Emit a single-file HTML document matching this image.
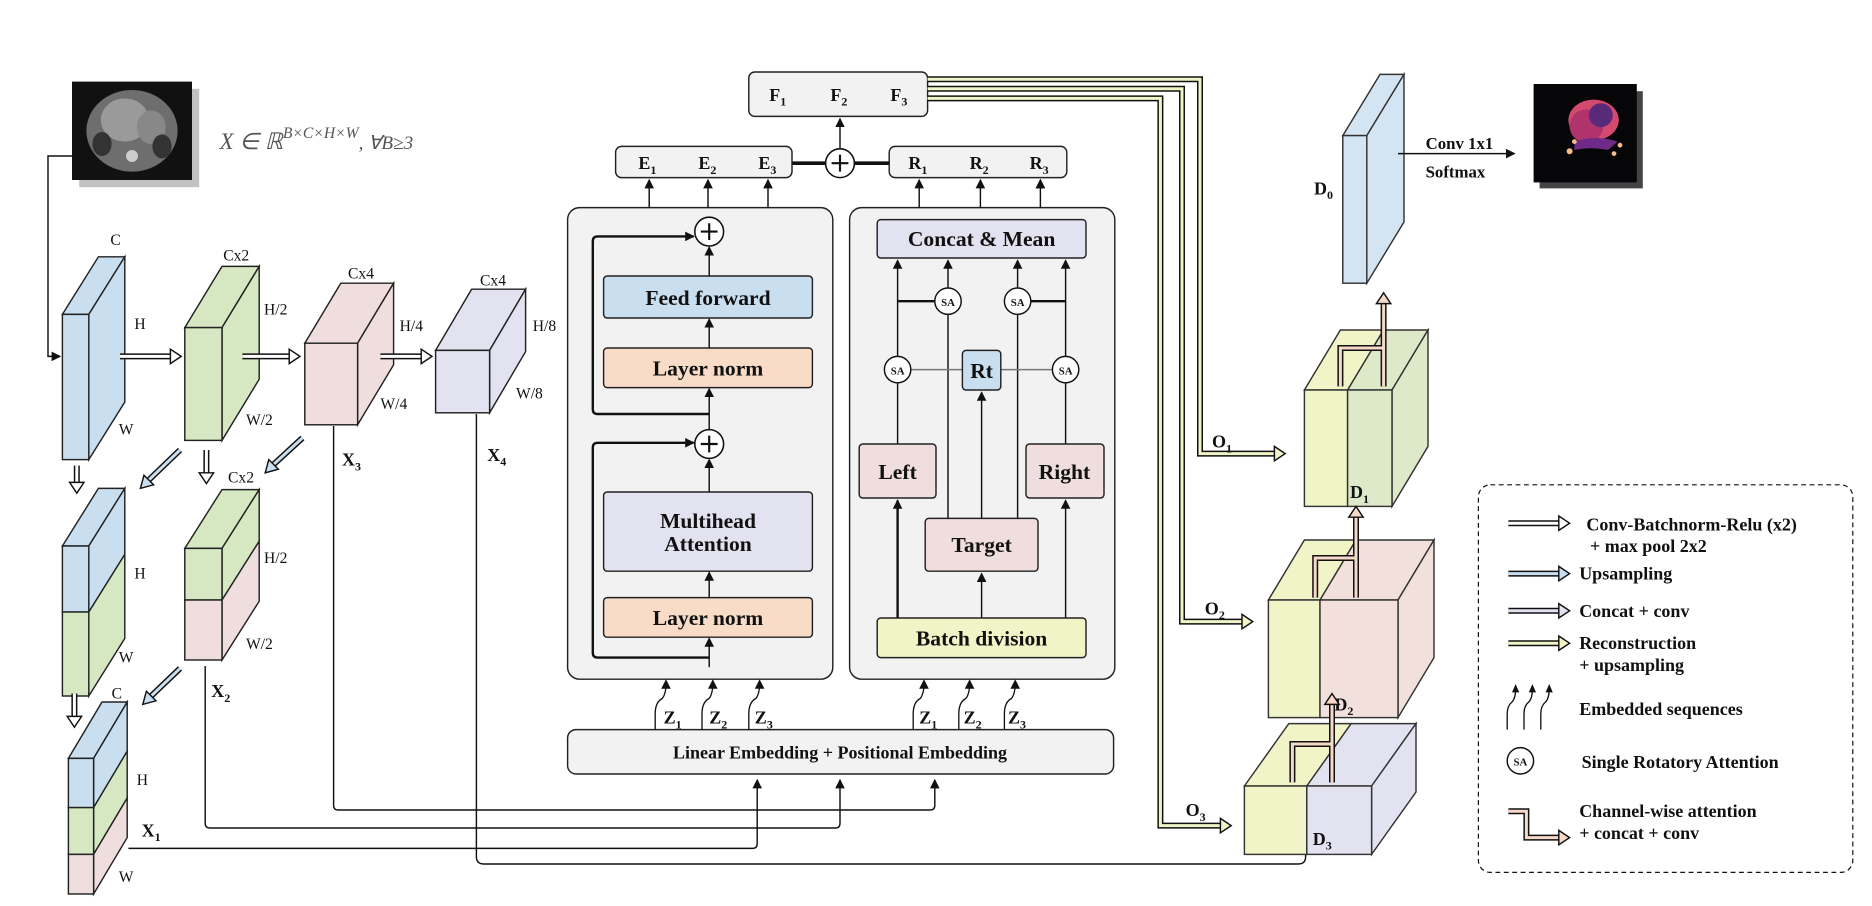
<!DOCTYPE html>
<html><head><meta charset="utf-8"><style>
html,body{margin:0;padding:0;background:#fff;}
svg{display:block;}
text{font-family:"Liberation Serif",serif;fill:#111;}
.b{font-weight:bold;}
</style></head><body>
<svg width="1872" height="906" viewBox="0 0 1560 755" xmlns="http://www.w3.org/2000/svg">
<defs>
<marker id="ah" markerWidth="8" markerHeight="8" refX="7" refY="4" orient="auto" markerUnits="userSpaceOnUse"><path d="M0,0 L8,4 L0,8z" fill="#111"/></marker>
</defs>
<rect width="1560" height="755" fill="#fff"/>

<!-- CT image -->
<rect x="66" y="74" width="100" height="82" fill="#999" opacity="0.6"/>
<rect x="60" y="68" width="100" height="82" fill="#111"/>
<ellipse cx="110" cy="109" rx="38" ry="34" fill="#6e6e6e"/>
<ellipse cx="104" cy="100" rx="20" ry="18" fill="#9a9a9a"/>
<ellipse cx="126" cy="106" rx="12" ry="14" fill="#888"/>
<ellipse cx="85" cy="120" rx="8" ry="10" fill="#333"/>
<ellipse cx="135" cy="122" rx="8" ry="10" fill="#333"/>
<circle cx="110" cy="130" r="5" fill="#ccc"/>
<text x="183" y="124" font-size="19" font-style="italic" fill="#444" style="fill:#555">X ∈ ℝ<tspan font-size="13" dy="-9">B×C×H×W</tspan><tspan dy="9" font-size="16">, ∀B≥3</tspan></text>
<path d="M60,130 H40 V297 H50" fill="none" stroke="#111" stroke-width="1.2" marker-end="url(#ah)"/>

<!-- Encoder boxes -->
<g stroke="#222" stroke-width="1.2">
<!-- B1 -->
<polygon points="52,262 82,214 104,214 74,262" fill="#c9dff0"/>
<polygon points="74,262 104,214 104,335 74,383" fill="#c9dff0"/>
<rect x="52" y="262" width="22" height="121" fill="#c9dff0"/>
<!-- B2 -->
<polygon points="154,273 185,222 216,222 185,273" fill="#d6e8c1"/>
<polygon points="185,273 216,222 216,316 185,367" fill="#d6e8c1"/>
<rect x="154" y="273" width="31" height="94" fill="#d6e8c1"/>
<!-- B3 -->
<polygon points="254,286 284,236 328,236 298,286" fill="#f0dede"/>
<polygon points="298,286 328,236 328,304 298,354" fill="#f0dede"/>
<rect x="254" y="286" width="44" height="68" fill="#f0dede"/>
<!-- B4 -->
<polygon points="363,292 393,241 438,241 408,292" fill="#e3e2f1"/>
<polygon points="408,292 438,241 438,293 408,344" fill="#e3e2f1"/>
<rect x="363" y="292" width="45" height="52" fill="#e3e2f1"/>
<!-- B5 -->
<polygon points="52,455 82,407 104,407 74,455" fill="#c9dff0"/>
<polygon points="74,455 104,407 104,462 74,510" fill="#c9dff0"/>
<polygon points="74,510 104,462 104,532 74,580" fill="#d6e8c1"/>
<rect x="52" y="455" width="22" height="55" fill="#c9dff0"/>
<rect x="52" y="510" width="22" height="70" fill="#d6e8c1"/>
<!-- B6 -->
<polygon points="154,457 185,408 216,408 185,457" fill="#d6e8c1"/>
<polygon points="185,457 216,408 216,451 185,500" fill="#d6e8c1"/>
<polygon points="185,500 216,451 216,501 185,550" fill="#f0dede"/>
<rect x="154" y="457" width="31" height="43" fill="#d6e8c1"/>
<rect x="154" y="500" width="31" height="50" fill="#f0dede"/>
<!-- B7 -->
<polygon points="57,632 85,585 106,585 78,632" fill="#c9dff0"/>
<polygon points="78,632 106,585 106,626 78,673" fill="#c9dff0"/>
<polygon points="78,673 106,626 106,665 78,712" fill="#d6e8c1"/>
<polygon points="78,712 106,665 106,698 78,745" fill="#f0dede"/>
<rect x="57" y="632" width="21" height="41" fill="#c9dff0"/>
<rect x="57" y="673" width="21" height="39" fill="#d6e8c1"/>
<rect x="57" y="712" width="21" height="33" fill="#f0dede"/>
</g>
<g font-size="13">
<text x="92" y="204">C</text><text x="112" y="274">H</text><text x="99" y="362">W</text>
<text x="186" y="217">Cx2</text><text x="220" y="262">H/2</text><text x="205" y="354">W/2</text>
<text x="290" y="232">Cx4</text><text x="333" y="276">H/4</text><text x="317" y="341">W/4</text>
<text x="400" y="238">Cx4</text><text x="444" y="276">H/8</text><text x="430" y="332">W/8</text>
<text x="112" y="482">H</text><text x="99" y="552">W</text>
<text x="190" y="402">Cx2</text><text x="220" y="469">H/2</text><text x="205" y="541">W/2</text>
<text x="93" y="582">C</text><text x="114" y="654">H</text><text x="99" y="735">W</text>
</g>
<g font-size="15" class="b" font-weight="bold">
<text x="285" y="388">X<tspan font-size="10" dy="4">3</tspan></text>
<text x="406" y="384">X<tspan font-size="10" dy="4">4</tspan></text>
<text x="176" y="581">X<tspan font-size="10" dy="4">2</tspan></text>
<text x="118" y="697">X<tspan font-size="10" dy="4">1</tspan></text>
</g>

<!-- hollow arrows encoder -->
<g>
<path d="M100,297 H143" stroke="#111" stroke-width="5" fill="none"/><path d="M100,297 H143" stroke="#fff" stroke-width="2.5" fill="none"/><polygon points="142,291 151,297 142,303" fill="#fff" stroke="#111" stroke-width="1.2"/>
<path d="M202,297 H242" stroke="#111" stroke-width="5" fill="none"/><path d="M202,297 H242" stroke="#fff" stroke-width="2.5" fill="none"/><polygon points="241,291 250,297 241,303" fill="#fff" stroke="#111" stroke-width="1.2"/>
<path d="M317,297 H352" stroke="#111" stroke-width="5" fill="none"/><path d="M317,297 H352" stroke="#fff" stroke-width="2.5" fill="none"/><polygon points="351,291 360,297 351,303" fill="#fff" stroke="#111" stroke-width="1.2"/>
<path d="M64,388 V403" stroke="#111" stroke-width="5"/><path d="M64,388 V403" stroke="#fff" stroke-width="2.5"/><polygon points="58,402 64,411 70,402" fill="#fff" stroke="#111" stroke-width="1.2"/>
<path d="M172,375 V395" stroke="#111" stroke-width="5"/><path d="M172,375 V395" stroke="#fff" stroke-width="2.5"/><polygon points="166,394 172,403 178,394" fill="#fff" stroke="#111" stroke-width="1.2"/>
<path d="M62,578 V598" stroke="#111" stroke-width="5"/><path d="M62,578 V598" stroke="#fff" stroke-width="2.5"/><polygon points="56,597 62,606 68,597" fill="#fff" stroke="#111" stroke-width="1.2"/>
<path d="M150,375 L124,400" stroke="#111" stroke-width="5"/><path d="M150,375 L124,400" stroke="#c9dff0" stroke-width="2.5"/><polygon points="120,396 117,407 128,404" fill="#c9dff0" stroke="#111" stroke-width="1.2"/>
<path d="M252,365 L228,387" stroke="#111" stroke-width="5"/><path d="M252,365 L228,387" stroke="#c9dff0" stroke-width="2.5"/><polygon points="224,383 221,394 232,391" fill="#c9dff0" stroke="#111" stroke-width="1.2"/>
<path d="M150,557 L126,580" stroke="#111" stroke-width="5"/><path d="M150,557 L126,580" stroke="#c9dff0" stroke-width="2.5"/><polygon points="122,576 119,587 130,584" fill="#c9dff0" stroke="#111" stroke-width="1.2"/>
</g>

<!-- skip connections to embedding -->
<g fill="none" stroke="#111" stroke-width="1.2">
<path d="M107,707 H627 Q631,707 631,703 V650" marker-end="url(#ah)"/>
<path d="M171,555 V686 Q171,690 175,690 H696 Q700,690 700,686 V650" marker-end="url(#ah)"/>
<path d="M278,355 V671 Q278,675 282,675 H775 Q779,675 779,671 V650" marker-end="url(#ah)"/>
<path d="M397,345 V714 Q397,720 403,720 H1082 Q1088,720 1088,714 V700"/>
</g>

<!-- F/E/R boxes -->
<g stroke="#222" stroke-width="1.2" fill="#f2f2f2">
<rect x="624" y="60" width="149" height="37" rx="5"/>
<rect x="513" y="122" width="147" height="26" rx="5"/>
<rect x="741" y="122" width="148" height="26" rx="5"/>
<rect x="473" y="173" width="221" height="393" rx="10"/>
<rect x="708" y="173" width="221" height="393" rx="10"/>
<rect x="473" y="608" width="455" height="37" rx="7"/>
</g>
<g font-size="15" font-weight="bold">
<text x="641" y="84">F<tspan font-size="10" dy="4">1</tspan></text>
<text x="692" y="84">F<tspan font-size="10" dy="4">2</tspan></text>
<text x="742" y="84">F<tspan font-size="10" dy="4">3</tspan></text>
<text x="532" y="141">E<tspan font-size="10" dy="4">1</tspan></text>
<text x="582" y="141">E<tspan font-size="10" dy="4">2</tspan></text>
<text x="632" y="141">E<tspan font-size="10" dy="4">3</tspan></text>
<text x="757" y="141">R<tspan font-size="10" dy="4">1</tspan></text>
<text x="808" y="141">R<tspan font-size="10" dy="4">2</tspan></text>
<text x="858" y="141">R<tspan font-size="10" dy="4">3</tspan></text>
</g>
<path d="M660,136 H741" stroke="#111" stroke-width="3"/>
<circle cx="700" cy="136" r="12" fill="#fff" stroke="#111" stroke-width="1.3"/>
<path d="M693,136 H707 M700,129 V143" stroke="#111" stroke-width="1.8"/>
<g stroke="#111" stroke-width="1.2" fill="none">
<path d="M700,124 V99" marker-end="url(#ah)"/>
<path d="M541,173 V150 M590,173 V150 M640,173 V150 M766,173 V150 M817,173 V150 M867,173 V150" marker-end="url(#ah)"/>
</g>
<g fill="#111"><polygon points="537,157 541,149 545,157"/><polygon points="586,157 590,149 594,157"/><polygon points="636,157 640,149 644,157"/><polygon points="762,157 766,149 770,157"/><polygon points="813,157 817,149 821,157"/><polygon points="863,157 867,149 871,157"/></g>

<!-- Left panel -->
<g stroke="#222" stroke-width="1.2">
<rect x="503" y="230" width="174" height="35" rx="3" fill="#c9dff0"/>
<rect x="503" y="290" width="174" height="33" rx="3" fill="#f8dcc7"/>
<rect x="503" y="410" width="174" height="66" rx="3" fill="#e3e2f1"/>
<rect x="503" y="498" width="174" height="33" rx="3" fill="#f8dcc7"/>
</g>
<g stroke="#111" stroke-width="1.2" fill="none">
<path d="M591,230 V206" marker-end="url(#ah)"/>
<path d="M591,290 V266" marker-end="url(#ah)"/>
<path d="M591,358 V324" marker-end="url(#ah)"/>
<path d="M591,410 V383" marker-end="url(#ah)"/>
<path d="M591,498 V477" marker-end="url(#ah)"/>
<path d="M591,556 V532" marker-end="url(#ah)"/>
<path d="M591,345 H498 Q494,345 494,341 V201 Q494,197 498,197 H578" stroke-width="2" marker-end="url(#ah)"/>
<path d="M591,548 H498 Q494,548 494,544 V373 Q494,369 498,369 H578" stroke-width="2" marker-end="url(#ah)"/>
</g>
<g fill="#fff" stroke="#111" stroke-width="1.3"><circle cx="591" cy="193" r="12"/><circle cx="591" cy="370" r="12"/></g>
<path d="M584,193 H598 M591,186 V200 M584,370 H598 M591,363 V377" stroke="#111" stroke-width="1.8"/>
<g font-size="18" font-weight="bold" text-anchor="middle">
<text x="590" y="254">Feed forward</text>
<text x="590" y="313">Layer norm</text>
<text x="590" y="440">Multihead</text>
<text x="590" y="459">Attention</text>
<text x="590" y="521">Layer norm</text>
</g>

<!-- Right panel -->
<g stroke="#222" stroke-width="1.2">
<rect x="731" y="183" width="174" height="32" rx="3" fill="#e3e2f1"/>
<rect x="716" y="370" width="64" height="45" rx="3" fill="#f0dede"/>
<rect x="855" y="370" width="65" height="45" rx="3" fill="#f0dede"/>
<rect x="771" y="432" width="94" height="44" rx="3" fill="#f0dede"/>
<rect x="731" y="515" width="174" height="33" rx="3" fill="#f1f4c6"/>
</g>
<g stroke="#111" stroke-width="1.2" fill="none">
<path d="M748,370 V217" marker-end="url(#ah)"/>
<path d="M888,370 V217" marker-end="url(#ah)"/>
<path d="M790,432 V217" marker-end="url(#ah)"/>
<path d="M848,432 V217" marker-end="url(#ah)"/>
<path d="M818,432 V327" marker-end="url(#ah)"/>
<path d="M818,515 V478" marker-end="url(#ah)"/>
<path d="M888,515 V417" marker-end="url(#ah)"/>
<path d="M748,515 V417" stroke-width="2" marker-end="url(#ah)"/>
<path d="M748,251 H790 M848,251 H888" stroke-width="2"/>
<path d="M748,308 H888" stroke="#777"/>
</g>
<rect x="802" y="292" width="32" height="33" rx="3" fill="#c9dff0" stroke="#222" stroke-width="1.2"/>
<g fill="#fff" stroke="#111" stroke-width="1.2">
<circle cx="748" cy="308" r="11"/><circle cx="888" cy="308" r="11"/><circle cx="790" cy="251" r="11"/><circle cx="848" cy="251" r="11"/>
</g>
<g font-size="9" font-weight="bold" text-anchor="middle">
<text x="748" y="312">SA</text><text x="888" y="312">SA</text><text x="790" y="255">SA</text><text x="848" y="255">SA</text>
</g>
<g font-size="18" font-weight="bold" text-anchor="middle">
<text x="818" y="205">Concat &amp; Mean</text>
<text x="818" y="315">Rt</text>
<text x="748" y="399">Left</text>
<text x="887" y="399">Right</text>
<text x="818" y="460">Target</text>
<text x="818" y="538">Batch division</text>
</g>

<!-- embedding -->
<text x="700" y="632" font-size="15" font-weight="bold" text-anchor="middle">Linear Embedding + Positional Embedding</text>
<g stroke="#111" stroke-width="1.1" fill="none">
<path d="M546,608 V595 Q546,585 552,582 Q555,578 555,570"/><path d="M585,608 V595 Q585,585 591,582 Q594,578 594,570"/><path d="M624,608 V595 Q624,585 630,582 Q633,578 633,570"/>
<path d="M761,608 V595 Q761,585 767,582 Q770,578 770,570"/><path d="M799,608 V595 Q799,585 805,582 Q808,578 808,570"/><path d="M837,608 V595 Q837,585 843,582 Q846,578 846,570"/>
</g>
<g fill="#111"><polygon points="551,574 555,566 559,574"/><polygon points="590,574 594,566 598,574"/><polygon points="629,574 633,566 637,574"/><polygon points="766,574 770,566 774,574"/><polygon points="804,574 808,566 812,574"/><polygon points="842,574 846,566 850,574"/></g>
<g font-size="15" font-weight="bold">
<text x="553" y="603">Z<tspan font-size="10" dy="4">1</tspan></text><text x="591" y="603">Z<tspan font-size="10" dy="4">2</tspan></text><text x="629" y="603">Z<tspan font-size="10" dy="4">3</tspan></text>
<text x="766" y="603">Z<tspan font-size="10" dy="4">1</tspan></text><text x="803" y="603">Z<tspan font-size="10" dy="4">2</tspan></text><text x="840" y="603">Z<tspan font-size="10" dy="4">3</tspan></text>
</g>

<!-- yellow reconstruction lines -->
<g fill="none">
<path d="M773,66 H1000 V378 H1063" stroke="#111" stroke-width="5"/><path d="M773,66 H1000 V378 H1063" stroke="#f1f4c6" stroke-width="2.5"/>
<path d="M773,74 H985 V518 H1036" stroke="#111" stroke-width="5"/><path d="M773,74 H985 V518 H1036" stroke="#f1f4c6" stroke-width="2.5"/>
<path d="M773,82 H967 V688 H1018" stroke="#111" stroke-width="5"/><path d="M773,82 H967 V688 H1018" stroke="#f1f4c6" stroke-width="2.5"/>
</g>
<g fill="#f1f4c6" stroke="#111" stroke-width="1.2">
<polygon points="1062,372 1071,378 1062,384"/><polygon points="1035,512 1044,518 1035,524"/><polygon points="1017,682 1026,688 1017,694"/>
</g>
<g font-size="15" font-weight="bold">
<text x="1010" y="373">O<tspan font-size="10" dy="4">1</tspan></text>
<text x="1004" y="512">O<tspan font-size="10" dy="4">2</tspan></text>
<text x="988" y="680">O<tspan font-size="10" dy="4">3</tspan></text>
</g>

<!-- Decoder -->
<g stroke="#333" stroke-width="1.2">
<!-- D0 -->
<polygon points="1119,113 1150,62 1170,62 1139,113" fill="#d3e4f3"/>
<polygon points="1139,113 1170,62 1170,185 1139,236" fill="#d3e4f3"/>
<rect x="1119" y="113" width="20" height="123" fill="#d3e4f3"/>
<!-- D1 -->
<polygon points="1087,325 1117,275 1153,275 1123,325" fill="#f1f4c6"/>
<polygon points="1123,325 1153,275 1190,275 1160,325" fill="#dde9c8"/>
<polygon points="1160,325 1190,275 1190,372 1160,422" fill="#dde9c8"/>
<rect x="1087" y="325" width="36" height="97" fill="#f1f4c6"/>
<rect x="1123" y="325" width="37" height="97" fill="#dde9c8"/>
<!-- D2 -->
<polygon points="1057,500 1087,450 1130,450 1100,500" fill="#f1f4c6"/>
<polygon points="1100,500 1130,450 1195,450 1165,500" fill="#f2e0dd"/>
<polygon points="1165,500 1195,450 1195,548 1165,598" fill="#f2e0dd"/>
<rect x="1057" y="500" width="43" height="98" fill="#f1f4c6"/>
<rect x="1100" y="500" width="65" height="98" fill="#f2e0dd"/>
<!-- D3 -->
<polygon points="1037,655 1074,603 1126,603 1089,655" fill="#f1f4c6"/>
<polygon points="1089,655 1126,603 1180,603 1143,655" fill="#e3e2f1"/>
<polygon points="1143,655 1180,603 1180,660 1143,712" fill="#e3e2f1"/>
<rect x="1037" y="655" width="52" height="57" fill="#f1f4c6"/>
<rect x="1089" y="655" width="54" height="57" fill="#e3e2f1"/>
</g>
<g font-size="15" font-weight="bold">
<text x="1095" y="162">D<tspan font-size="10" dy="4">0</tspan></text>
<text x="1125" y="415">D<tspan font-size="10" dy="4">1</tspan></text>
<text x="1112" y="592">D<tspan font-size="10" dy="4">2</tspan></text>
<text x="1094" y="704">D<tspan font-size="10" dy="4">3</tspan></text>
</g>
<!-- channel-wise brackets -->
<g fill="none">
<path d="M1117,322 V290 H1153 M1153,322 V252" stroke="#111" stroke-width="5"/><path d="M1117,322 V290 H1153 M1153,322 V252" stroke="#f6d9c8" stroke-width="2.5"/>
<path d="M1096,498 V465 H1130 M1130,498 V430" stroke="#111" stroke-width="5"/><path d="M1096,498 V465 H1130 M1130,498 V430" stroke="#f6d9c8" stroke-width="2.5"/>
<path d="M1077,652 V620 H1110 M1110,652 V586" stroke="#111" stroke-width="5"/><path d="M1077,652 V620 H1110 M1110,652 V586" stroke="#f6d9c8" stroke-width="2.5"/>
</g>
<g fill="#f6d9c8" stroke="#111" stroke-width="1.2">
<polygon points="1147,253 1153,244 1159,253"/><polygon points="1124,431 1130,422 1136,431"/><polygon points="1104,587 1110,578 1116,587"/>
</g>
<path d="M1165,128 H1262" stroke="#111" stroke-width="1.2" marker-end="url(#ah)"/>
<text x="1188" y="124" font-size="14" font-weight="bold">Conv 1x1</text>
<text x="1188" y="148" font-size="14" font-weight="bold">Softmax</text>
<!-- output -->
<rect x="1283" y="76" width="86" height="81" fill="#444"/>
<rect x="1278" y="70" width="86" height="82" fill="#060608"/>
<ellipse cx="1328" cy="100" rx="21" ry="17" fill="#d44a6e"/>
<ellipse cx="1322" cy="105" rx="14" ry="14" fill="#b0336e"/>
<ellipse cx="1334" cy="96" rx="10" ry="10" fill="#5a2a7a"/>
<path d="M1312,118 Q1330,112 1348,118 L1340,125 Q1325,122 1312,125z" fill="#6e2a86"/>
<circle cx="1308" cy="126" r="2.5" fill="#f5b98a"/><circle cx="1312" cy="118" r="2" fill="#f5b98a"/><circle cx="1345" cy="128" r="2" fill="#f5b98a"/><circle cx="1350" cy="121" r="2" fill="#f5b98a"/>

<!-- Legend -->
<rect x="1232" y="404" width="312" height="323" rx="10" fill="#fff" stroke="#111" stroke-width="1" stroke-dasharray="4,3"/>
<g fill="none">
<path d="M1257,436 H1300" stroke="#111" stroke-width="5"/><path d="M1257,436 H1300" stroke="#fff" stroke-width="2.5"/>
<path d="M1257,478 H1300" stroke="#111" stroke-width="5"/><path d="M1257,478 H1300" stroke="#c9dff0" stroke-width="2.5"/>
<path d="M1257,509 H1300" stroke="#111" stroke-width="5"/><path d="M1257,509 H1300" stroke="#e3e2f1" stroke-width="2.5"/>
<path d="M1257,536 H1300" stroke="#111" stroke-width="5"/><path d="M1257,536 H1300" stroke="#f1f4c6" stroke-width="2.5"/>
<path d="M1257,676 H1272 V698 H1300" stroke="#111" stroke-width="5"/><path d="M1257,676 H1272 V698 H1300" stroke="#f6d9c8" stroke-width="2.5"/>
</g>
<g stroke="#111" stroke-width="1.2">
<polygon points="1299,430 1308,436 1299,442" fill="#fff"/>
<polygon points="1299,472 1308,478 1299,484" fill="#c9dff0"/>
<polygon points="1299,503 1308,509 1299,515" fill="#e3e2f1"/>
<polygon points="1299,530 1308,536 1299,542" fill="#f1f4c6"/>
<polygon points="1299,692 1308,698 1299,704" fill="#f6d9c8"/>
</g>
<g stroke="#111" stroke-width="1.1" fill="none">
<path d="M1256,608 V595 Q1256,588 1260,585 Q1263,582 1263,574"/><path d="M1270,608 V595 Q1270,588 1274,585 Q1277,582 1277,574"/><path d="M1284,608 V595 Q1284,588 1288,585 Q1291,582 1291,574"/>
</g>
<g fill="#111"><polygon points="1260,577 1263,570 1266,577"/><polygon points="1274,577 1277,570 1280,577"/><polygon points="1288,577 1291,570 1294,577"/></g>
<circle cx="1267" cy="634" r="11" fill="#fff" stroke="#111" stroke-width="1.2"/>
<text x="1267" y="638" font-size="9" font-weight="bold" text-anchor="middle">SA</text>
<g font-size="15" font-weight="bold">
<text x="1322" y="442">Conv-Batchnorm-Relu (x2)</text>
<text x="1325" y="460">+ max pool 2x2</text>
<text x="1316" y="483">Upsampling</text>
<text x="1316" y="514">Concat + conv</text>
<text x="1316" y="541">Reconstruction</text>
<text x="1316" y="559">+ upsampling</text>
<text x="1316" y="596">Embedded sequences</text>
<text x="1318" y="640">Single Rotatory Attention</text>
<text x="1316" y="681">Channel-wise attention</text>
<text x="1316" y="699">+ concat + conv</text>
</g>
</svg>
</body></html>
